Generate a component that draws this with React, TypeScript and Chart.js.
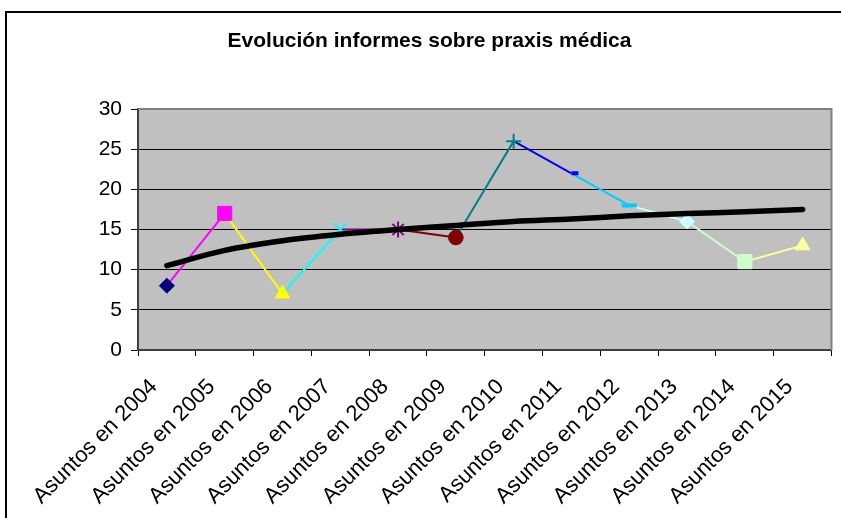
import { useEffect, useRef } from 'react';
import { Chart, registerables } from 'chart.js';

Chart.register(...registerables);

const categories = [
  'Asuntos en 2004', 'Asuntos en 2005', 'Asuntos en 2006', 'Asuntos en 2007',
  'Asuntos en 2008', 'Asuntos en 2009', 'Asuntos en 2010', 'Asuntos en 2011',
  'Asuntos en 2012', 'Asuntos en 2013', 'Asuntos en 2014', 'Asuntos en 2015',
];
const values = [8, 17, 7, 15, 15, 14, 26, 22, 18, 16, 11, 13];
const trendValues = [10.5, 12.4, 13.6, 14.4, 15.0, 15.5, 16.0, 16.3, 16.7, 17.0, 17.2, 17.5];
const pointStyles = ['rectRot', 'rect', 'triangle', 'crossRot', 'star', 'circle', 'cross', 'dash', 'line', 'rectRot', 'rect', 'triangle'];
const pointColors = ['#000080', '#FF00FF', '#FFFF00', '#00FFFF', '#800080', '#800000', '#008080', '#0000FF', '#00CCFF', '#CCFFFF', '#CCFFCC', '#FFFF99'];
const pointRadii = [7.5, 10, 8.5, 9, 8, 7.3, 7.5, 7, 7.5, 7.5, 10, 8.5];
const pointBorderWidths = [1, 1, 1, 2, 2, 1, 2, 4, 4, 1, 1, 1];
const yMin = 0;
const yMax = 30;
const yStep = 5;
const titleText = 'Evolución informes sobre praxis médica';

const FONT = 'Arial, "Liberation Sans", Helvetica, sans-serif';

const framePlugin = {
  id: 'framePlugin',
  beforeDraw(chart: any) {
    const { ctx, chartArea } = chart;
    ctx.save();
    ctx.fillStyle = '#ffffff';
    ctx.fillRect(0, 0, chart.width, chart.height);
    ctx.strokeStyle = '#000000';
    ctx.lineWidth = 2;
    ctx.beginPath();
    ctx.moveTo(6, chart.height);
    ctx.lineTo(6, 12);
    ctx.lineTo(chart.width, 12);
    ctx.stroke();
    ctx.fillStyle = '#C0C0C0';
    ctx.fillRect(chartArea.left, chartArea.top, chartArea.right - chartArea.left, chartArea.bottom - chartArea.top);
    ctx.restore();
  },
  beforeDatasetsDraw(chart: any) {
    const { ctx, chartArea } = chart;
    ctx.save();
    ctx.strokeStyle = '#808080';
    ctx.lineWidth = 2;
    ctx.beginPath();
    ctx.moveTo(chartArea.left, chartArea.top);
    ctx.lineTo(chartArea.right, chartArea.top);
    ctx.lineTo(chartArea.right, chartArea.bottom);
    ctx.stroke();
    ctx.restore();
  },
};

export default function App() {
  const canvasRef = useRef<HTMLCanvasElement | null>(null);

  useEffect(() => {
    document.body.style.margin = '0';
    document.body.style.overflow = 'hidden';
    const canvas = canvasRef.current;
    if (!canvas) return;
    const chart = new Chart(canvas, {
      type: 'line',
      data: {
        labels: categories,
        datasets: [
          {
            label: 'Tendencia',
            data: trendValues,
            borderColor: '#000000',
            borderWidth: 5.5,
            borderCapStyle: 'round',
            pointRadius: 0,
            tension: 0.4,
            cubicInterpolationMode: 'monotone',
            fill: false,
            order: 0,
          },
          {
            label: 'Asuntos',
            data: values,
            borderWidth: 2,
            borderColor: pointColors[1],
            segment: {
              borderColor: (ctx: any) => pointColors[ctx.p1DataIndex],
            },
            pointStyle: pointStyles as any,
            pointRadius: pointRadii,
            pointBackgroundColor: pointColors,
            pointBorderColor: pointColors,
            pointBorderWidth: pointBorderWidths,
            tension: 0,
            fill: false,
            order: 1,
          },
        ],
      },
      options: {
        responsive: false,
        animation: false,
        devicePixelRatio: 1,
        layout: { padding: { top: 0, right: 9, left: 27, bottom: 0 } },
        plugins: {
          legend: { display: false },
          tooltip: { enabled: false },
          title: {
            display: true,
            text: titleText,
            color: '#000000',
            font: { family: FONT, size: 21, weight: 'bold', lineHeight: 1.2 },
            padding: { top: 29, bottom: 54.8 },
          },
        },
        scales: {
          x: {
            type: 'category',
            offset: true,
            grid: {
              offset: true,
              drawOnChartArea: false,
              drawTicks: true,
              tickLength: 6,
              color: '#000000',
            },
            border: { color: '#404040', width: 2 },
            ticks: {
              minRotation: 45,
              maxRotation: 45,
              autoSkip: false,
              color: '#000000',
              padding: 18,
              labelOffset: -13,
              font: { family: FONT, size: 22 },
            },
            afterFit: (s: any) => { s.height = 168; },
          },
          y: {
            min: yMin,
            max: yMax,
            grid: { color: '#000000', tickLength: 7, lineWidth: 1 },
            border: { color: '#404040', width: 2 },
            ticks: {
              stepSize: yStep,
              color: '#000000',
              padding: 9,
              font: { family: FONT, size: 21 },
            },
            afterFit: (s: any) => { s.width = 111; },
          },
        },
      },
      plugins: [framePlugin],
    });
    return () => chart.destroy();
  }, []);

  return (
    <div style={{ position: 'absolute', left: 0, top: 0, width: 841, height: 518, background: '#fff' }}>
      <canvas ref={canvasRef} width={841} height={518} style={{ display: 'block', width: 841, height: 518 }} />
    </div>
  );
}
